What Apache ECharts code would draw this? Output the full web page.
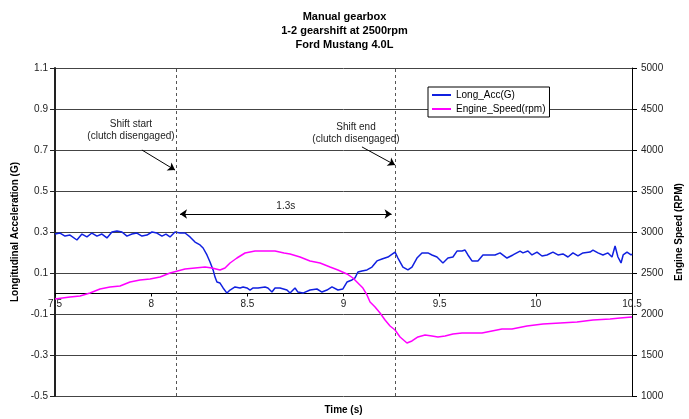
<!DOCTYPE html>
<html><head><meta charset="utf-8">
<script src="https://cdn.jsdelivr.net/npm/echarts@6/dist/echarts.min.js"></script>
<style>html,body{margin:0;padding:0;background:#fff}#c{width:689px;height:419px}</style>
</head><body><div id="c"></div>
<script>
const accTime = [7.5,7.526,7.552,7.578,7.614,7.64,7.666,7.692,7.718,7.744,7.77,7.796,7.822,7.848,7.874,7.9,7.926,7.952,7.978,8.004,8.03,8.056,8.077,8.098,8.124,8.15,8.176,8.202,8.228,8.254,8.27,8.29,8.306,8.322,8.332,8.342,8.358,8.374,8.394,8.41,8.436,8.462,8.478,8.498,8.514,8.53,8.556,8.592,8.607,8.628,8.644,8.67,8.706,8.722,8.748,8.763,8.789,8.826,8.862,8.888,8.914,8.94,8.971,8.997,9.018,9.044,9.06,9.075,9.096,9.122,9.148,9.174,9.2,9.231,9.268,9.283,9.309,9.335,9.356,9.382,9.408,9.439,9.46,9.486,9.517,9.543,9.569,9.59,9.616,9.632,9.647,9.668,9.699,9.725,9.751,9.788,9.814,9.85,9.881,9.918,9.933,9.959,9.98,10.006,10.032,10.058,10.089,10.115,10.141,10.167,10.193,10.219,10.245,10.282,10.297,10.323,10.349,10.375,10.396,10.412,10.427,10.443,10.454,10.474,10.495,10.5];
const accValues = [0.290,0.295,0.280,0.285,0.261,0.290,0.276,0.295,0.280,0.290,0.271,0.300,0.305,0.300,0.280,0.290,0.295,0.280,0.285,0.300,0.295,0.280,0.290,0.276,0.300,0.295,0.295,0.276,0.251,0.237,0.222,0.188,0.154,0.115,0.080,0.056,0.051,0.027,0.002,0.017,0.032,0.027,0.032,0.027,0.017,0.027,0.027,0.032,0.027,0.007,0.027,0.027,0.017,0.002,0.027,0.007,0.002,0.017,0.022,0.007,0.017,0.032,0.017,0.022,0.056,0.066,0.076,0.105,0.110,0.115,0.129,0.159,0.168,0.178,0.202,0.173,0.129,0.115,0.129,0.173,0.198,0.198,0.188,0.178,0.149,0.173,0.178,0.207,0.207,0.212,0.188,0.159,0.159,0.188,0.188,0.188,0.198,0.173,0.188,0.207,0.198,0.207,0.188,0.202,0.183,0.188,0.202,0.188,0.193,0.178,0.198,0.183,0.198,0.202,0.212,0.198,0.188,0.198,0.178,0.232,0.178,0.149,0.188,0.202,0.188,0.193];
const rpmTime = [7.5,7.578,7.63,7.682,7.734,7.786,7.838,7.89,7.942,7.994,8.046,8.098,8.176,8.228,8.28,8.316,8.358,8.384,8.41,8.446,8.488,8.54,8.592,8.644,8.691,8.722,8.774,8.826,8.878,8.93,8.971,9.018,9.049,9.075,9.101,9.122,9.138,9.164,9.19,9.216,9.242,9.268,9.294,9.33,9.356,9.387,9.424,9.46,9.491,9.528,9.569,9.616,9.668,9.72,9.772,9.824,9.876,9.954,10.037,10.126,10.214,10.297,10.386,10.438,10.5];
const rpmValues = [2183,2207,2220,2256,2305,2329,2341,2390,2415,2427,2451,2500,2549,2561,2573,2561,2537,2561,2622,2683,2744,2768,2768,2768,2744,2732,2695,2646,2622,2573,2537,2488,2439,2378,2317,2232,2146,2085,2012,1927,1854,1805,1720,1646,1671,1720,1744,1732,1720,1732,1756,1768,1768,1768,1793,1817,1817,1854,1878,1890,1902,1927,1939,1951,1963];
const leftTicks = [-0.5,-0.3,-0.1,0.1,0.3,0.5,0.7,0.9,1.1];
const shiftStart = 8.13, shiftEnd = 9.27;
const shiftDuration = '1.3s';

const FONT = 'Liberation Sans, Arial, sans-serif';
const accData = accTime.map((t, i) => [t, accValues[i]]);
const rpmData = rpmTime.map((t, i) => [t, rpmValues[i]]);

const chart = echarts.init(document.getElementById('c'), null, {renderer: 'canvas'});
const dash = {type: [3, 3], color: '#555', width: 1};
const arrowStyle = {type: 'solid', color: '#000', width: 1};
chart.setOption({
  animation: false,
  textStyle: {fontFamily: FONT},
  title: {
    text: 'Manual gearbox\n1-2 gearshift at 2500rpm\nFord Mustang 4.0L',
    left: 'center', top: 5,
    textStyle: {fontFamily: FONT, fontSize: 11, fontWeight: 'bold', color: '#000', lineHeight: 14}
  },
  legend: {
    orient: 'vertical', left: 428, top: 87,
    backgroundColor: '#fff', borderColor: '#000', borderWidth: 1, borderRadius: 0,
    padding: [3, 4, 3, 4], itemGap: 4, itemWidth: 19, itemHeight: 2,
    textStyle: {fontFamily: FONT, fontSize: 10, color: '#000'},
    data: [{name: 'Long_Acc(G)', icon: 'rect'}, {name: 'Engine_Speed(rpm)', icon: 'rect'}]
  },
  grid: {left: 55, right: 57, top: 68, bottom: 23, containLabel: false, outerBoundsMode: 'none'},
  xAxis: {
    type: 'value', min: 7.5, max: 10.5, interval: 0.5,
    axisLine: {onZero: true, onZeroAxisIndex: 0, lineStyle: {color: '#000', width: 1}},
    axisTick: {show: true, length: 3, lineStyle: {color: '#000'}},
    axisLabel: {margin: -97, fontSize: 10, color: '#222', fontFamily: FONT, formatter: v => String(v)},
    splitLine: {show: false},
    name: 'Time (s)', nameLocation: 'middle', nameGap: 9,
    nameTextStyle: {fontFamily: FONT, fontWeight: 'bold', fontSize: 10, color: '#000'}
  },
  yAxis: [{
    type: 'value', position: 'left', min: -0.5, max: 1.1,
    axisLine: {show: true, onZero: false, lineStyle: {color: '#222', width: 2}},
    axisTick: {show: true, length: 5, customValues: leftTicks, lineStyle: {color: '#222'}},
    axisLabel: {customValues: leftTicks, margin: 7, fontSize: 10, color: '#222', fontFamily: FONT,
      formatter: v => v.toFixed(1)},
    splitLine: {show: false},
    name: 'Longitudinal Acceleration (G)', nameLocation: 'middle', nameRotate: 90, nameGap: 29,
    nameTextStyle: {fontFamily: FONT, fontWeight: 'bold', fontSize: 10, color: '#000'}
  }, {
    type: 'value', position: 'right', min: 1000, max: 5000, interval: 500,
    axisLine: {show: true, onZero: false, lineStyle: {color: '#000', width: 1}},
    axisTick: {show: true, length: 5, lineStyle: {color: '#000'}},
    axisLabel: {margin: 9, fontSize: 10, color: '#222', fontFamily: FONT, formatter: v => String(v)},
    splitLine: {show: true, lineStyle: {color: '#444', width: 1}},
    name: 'Engine Speed (RPM)', nameLocation: 'middle', nameRotate: 90, nameGap: 34,
    nameTextStyle: {fontFamily: FONT, fontWeight: 'bold', fontSize: 10, color: '#000'}
  }],
  series: [{
    name: 'Long_Acc(G)', type: 'line', yAxisIndex: 0, data: accData,
    symbol: 'none', color: '#1020e0', lineStyle: {width: 1.5, color: '#1020e0'},
    z: 3,
    markLine: {
      silent: true, symbol: ['none', 'none'], symbolSize: 7,
      label: {show: false},
      data: [
        {xAxis: shiftStart, lineStyle: dash, label: {show: false}},
        {xAxis: shiftEnd, lineStyle: dash, label: {show: false}},
        [{coord: [8.15, 0.388], symbol: 'arrow', lineStyle: arrowStyle,
          label: {show: true, position: 'middle', formatter: shiftDuration, color: '#222', fontSize: 10, fontFamily: FONT, distance: 3}},
         {coord: [9.25, 0.388], symbol: 'arrow'}],
        [{coord: [7.952, 0.70], symbol: 'none', lineStyle: arrowStyle, label: {show: false}},
         {coord: [8.124, 0.602], symbol: 'arrow'}],
        [{coord: [9.096, 0.715], symbol: 'none', lineStyle: arrowStyle, label: {show: false}},
         {coord: [9.268, 0.627], symbol: 'arrow'}]
      ]
    },
    markPoint: {
      silent: true, symbol: 'rect', symbolSize: 1, itemStyle: {color: 'rgba(0,0,0,0)'},
      label: {show: true, position: 'inside', color: '#222', fontSize: 10, lineHeight: 12, align: 'center', fontFamily: FONT},
      data: [
        {coord: [7.895, 0.798], label: {formatter: 'Shift start\n(clutch disengaged)'}},
        {coord: [9.065, 0.783], label: {formatter: 'Shift end\n(clutch disengaged)'}}
      ]
    }
  }, {
    name: 'Engine_Speed(rpm)', type: 'line', yAxisIndex: 1, data: rpmData,
    symbol: 'none', color: '#ff00ff', lineStyle: {width: 1.5, color: '#ff00ff'},
    z: 4
  }]
});
</script></body></html>
